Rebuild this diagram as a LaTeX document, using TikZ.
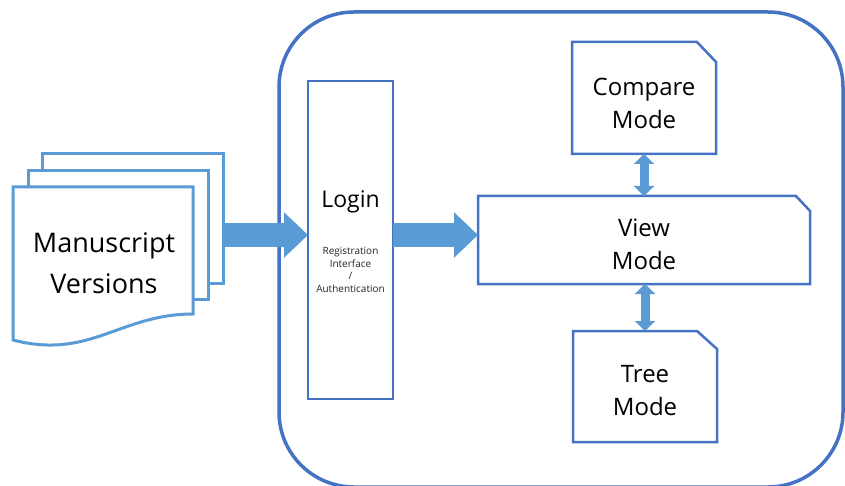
\documentclass[tikz,border=0pt]{standalone}
\usepackage{fontspec}
\setmainfont{Open Sans}
\usetikzlibrary{arrows.meta}
\definecolor{docblue}{HTML}{5B9BD5}
\definecolor{lineblue}{HTML}{4472C4}
\tikzset{
  sheet/.style={draw=docblue, line width=3pt, fill=white},
  box/.style={inner sep=0pt, outer sep=0pt},
  panel/.style={draw=lineblue, line width=2.5pt, fill=white, line join=miter},
  bigarrow/.style={docblue, line width=24pt, -{Triangle[length=24pt,width=44pt]}},
  duoarrow/.style={docblue, line width=9pt,
    {Triangle[length=10pt,width=20pt]}-{Triangle[length=10pt,width=20pt]}},
  bigtext/.style={align=center, font=\fontsize{27}{41}\selectfont},
  modetext/.style={align=center, font=\fontsize{24}{33}\selectfont},
  smalltext/.style={align=center, font=\fontsize{10}{12.5}\selectfont, text=black!85}
}
\begin{document}
\begin{tikzpicture}[x=1pt,y=-1pt]
\fill[white] (0,0) rectangle (845,486);
\useasboundingbox (0,0) rectangle (845,486);
% outer frame
\draw[lineblue, line width=3.5pt, rounded corners=75pt] (279,12) rectangle (843,487);
% stack of manuscripts
\draw[sheet] (42,154) rectangle (223,283);
\draw[sheet] (28,171) rectangle (208,299);
\draw[sheet] (13,187) -- (193,187) -- (193,314)
  .. controls (120,314) and (90,360) .. (13,340) -- cycle;
\node[bigtext] (docs) at (104,263) {Manuscript\\Versions};
\coordinate (stack) at (223,235);
% login column
\node[box, draw=lineblue, line width=2.5pt, minimum width=85pt, minimum height=318pt] (login) at (350.5,240) {};
\node[font=\fontsize{23}{28}\selectfont] (logintxt) at (350.5,202) {Login};
\node[smalltext] (regtxt) at (350.5,270) {Registration\\Interface\\/\\Authentication};
% modes
\node[box, minimum width=144pt, minimum height=112pt] (compare) at (644,98) {};
\node[box, minimum width=332pt, minimum height=88pt] (view) at (644,240) {};
\node[box, minimum width=144pt, minimum height=111pt] (tree) at (645,386.5) {};
\draw[panel] (compare.south west) -- (compare.north west) -- ([xshift=-19pt]compare.north east)
  -- ([yshift=-20pt]compare.north east) -- (compare.south east) -- cycle;
\draw[panel] (view.south west) -- (view.north west) -- ([xshift=-14pt]view.north east)
  -- ([yshift=-15pt]view.north east) -- (view.south east) -- cycle;
\draw[panel] (tree.south west) -- (tree.north west) -- ([xshift=-20pt]tree.north east)
  -- ([yshift=-18pt]tree.north east) -- (tree.south east) -- cycle;
\node[modetext] (comparetxt) at (644,103) {Compare\\Mode};
\node[modetext] (viewtxt) at (644,244) {View\\Mode};
\node[modetext] (treetxt) at (645,391) {Tree\\Mode};
% arrows
\draw[bigarrow] (stack) -- (login.west |- stack);
\draw[bigarrow] (login.east |- stack) -- (view.west |- stack);
\draw[duoarrow] (compare.south) -- (compare.south |- view.north);
\draw[duoarrow] (view.south -| tree.north) -- (tree.north);
\end{tikzpicture}
\end{document}
